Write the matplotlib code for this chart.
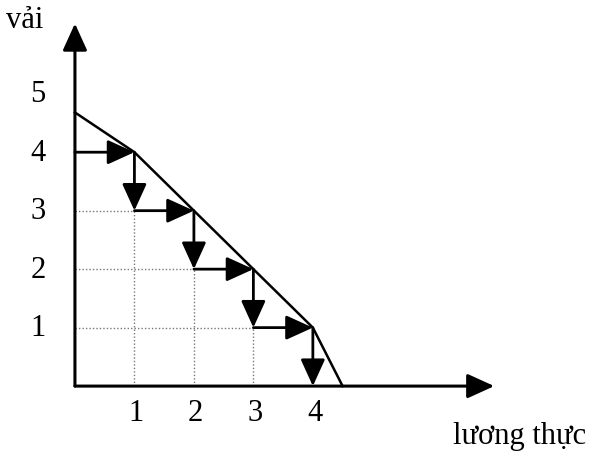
import matplotlib
matplotlib.use("Agg")
import matplotlib.pyplot as plt
from matplotlib.patches import ArrowStyle

# production possibility frontier (lương thực on x, vải on y)
frontier_food = [0, 1, 2, 3, 4, 4.5]
frontier_cloth = [4.68, 4, 3, 2, 1, 0]

# step points walked along the frontier
step_food = [0, 1, 2, 3, 4]
step_cloth = [4, 3, 2, 1, 0]

x_ticks = [1, 2, 3, 4]
y_ticks = [1, 2, 3, 4, 5]
x_label = "lương thực"
y_label = "vải"

plt.rcParams['font.family'] = ['Liberation Serif', 'DejaVu Serif']

fig = plt.figure(figsize=(5.93, 4.52), dpi=100, facecolor="white")
ax = fig.add_axes([0, 0, 1, 1])
ax.set_xlim(-1.26, 8.71)
ax.set_ylim(-1.11, 6.62)
ax.axis('off')

big_head = ArrowStyle('-|>', head_length=1.1, head_width=0.5)

# axes with arrows
ax.annotate("", xy=(0, 6.2), xytext=(0, 0),
            arrowprops=dict(arrowstyle=big_head, mutation_scale=15, lw=2.2,
                            color="black", shrinkA=0, shrinkB=0))
ax.annotate("", xy=(7.05, 0), xytext=(0, 0),
            arrowprops=dict(arrowstyle=big_head, mutation_scale=15, lw=2.2,
                            color="black", shrinkA=0, shrinkB=0))

# dotted grid inside the staircase
for i in range(1, 4):
    ax.plot([0, step_food[i]], [step_cloth[i], step_cloth[i]], color="#777777",
            lw=1, ls=(0, (1, 1.5)))
    ax.plot([step_food[i], step_food[i]], [0, step_cloth[i]], color="#777777",
            lw=1, ls=(0, (1, 1.5)))

# frontier
ax.plot(frontier_food, frontier_cloth, color="black", lw=1.8)

# staircase arrows
for i in range(len(step_food) - 1):
    # across
    ax.annotate("", xy=(step_food[i + 1], step_cloth[i]), xytext=(step_food[i], step_cloth[i]),
                arrowprops=dict(arrowstyle=big_head, mutation_scale=15, lw=2,
                                color="black", shrinkA=0, shrinkB=0))
    # down
    ax.annotate("", xy=(step_food[i + 1], step_cloth[i + 1]), xytext=(step_food[i + 1], step_cloth[i]),
                arrowprops=dict(arrowstyle=big_head, mutation_scale=15, lw=2,
                                color="black", shrinkA=0, shrinkB=0))

# tick labels
for v in x_ticks:
    ax.text(v + 0.03, -0.45, str(v), ha="center", va="center", fontsize=22)
for v in y_ticks:
    ax.text(-0.62, v, str(v), ha="center", va="center", fontsize=22)

ax.text(-0.85, 6.27, y_label, ha="center", va="center", fontsize=22)
ax.text(7.47, -0.85, x_label, ha="center", va="center", fontsize=22)

fig.savefig("out.png", dpi=100, facecolor="white")
